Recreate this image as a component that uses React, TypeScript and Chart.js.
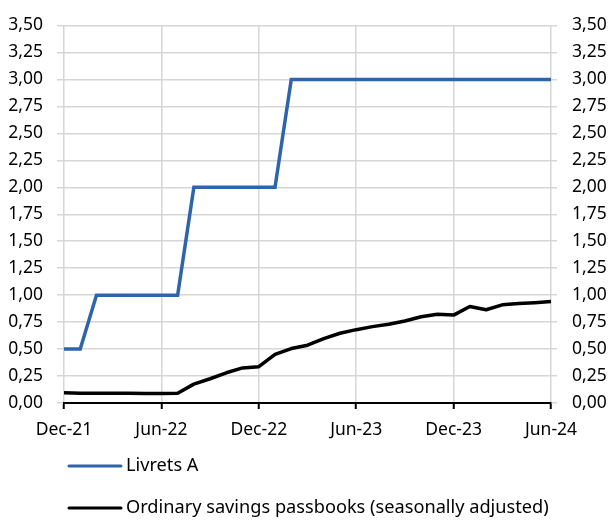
import React, { useEffect, useRef } from "react";
import { Chart, registerables } from "chart.js";

Chart.register(...registerables);

const months = [
  "Dec-21", "Jan-22", "Feb-22", "Mar-22", "Apr-22", "May-22", "Jun-22",
  "Jul-22", "Aug-22", "Sep-22", "Oct-22", "Nov-22", "Dec-22",
  "Jan-23", "Feb-23", "Mar-23", "Apr-23", "May-23", "Jun-23",
  "Jul-23", "Aug-23", "Sep-23", "Oct-23", "Nov-23", "Dec-23",
  "Jan-24", "Feb-24", "Mar-24", "Apr-24", "May-24", "Jun-24",
];

const livretA = [
  0.5, 0.5, 1, 1, 1, 1, 1,
  1, 2, 2, 2, 2, 2,
  2, 3, 3, 3, 3, 3,
  3, 3, 3, 3, 3, 3,
  3, 3, 3, 3, 3, 3,
];

const ordinaryPassbooks = [
  0.096, 0.09, 0.09, 0.09, 0.09, 0.088, 0.088,
  0.09, 0.175, 0.225, 0.28, 0.325, 0.337,
  0.45, 0.505, 0.536, 0.597, 0.647, 0.68,
  0.708, 0.73, 0.76, 0.8, 0.822, 0.815,
  0.895, 0.865, 0.91, 0.922, 0.93, 0.94,
];

const seriesNames = ["Livrets A", "Ordinary savings passbooks (seasonally adjusted)"];
const seriesColors = ["#2e64aa", "#000000"];

const FONT = "'Noto Sans', 'Open Sans', sans-serif";

const legendPlugin = {
  id: "customLegend",
  afterDraw(chart: any) {
    const ctx = chart.ctx;
    ctx.save();
    chart.data.datasets.forEach((ds: any, i: number) => {
      const y = 466 + i * 42;
      ctx.strokeStyle = ds.borderColor;
      ctx.lineWidth = 3;
      ctx.lineCap = "round";
      ctx.beginPath();
      ctx.moveTo(69, y);
      ctx.lineTo(121, y);
      ctx.stroke();
      ctx.fillStyle = "#000";
      ctx.font = `18.2px ${FONT}`;
      ctx.textBaseline = "middle";
      ctx.textAlign = "left";
      ctx.fillText(ds.label, 126, y);
    });
    ctx.restore();
  },
};

export default function App() {
  const ref = useRef<HTMLCanvasElement | null>(null);
  useEffect(() => {
    document.body.style.margin = "0";
    const fmt = (v: any) => Number(v).toFixed(2).replace(".", ",");
    const chart = new Chart(ref.current as HTMLCanvasElement, {
      type: "line",
      data: {
        labels: months,
        datasets: [
          {
            label: seriesNames[0],
            data: livretA,
            borderColor: seriesColors[0],
            backgroundColor: seriesColors[0],
            borderWidth: 3.5,
            pointRadius: 0,
            tension: 0,
            yAxisID: "y",
          },
          {
            label: seriesNames[1],
            data: ordinaryPassbooks,
            borderColor: seriesColors[1],
            backgroundColor: seriesColors[1],
            borderWidth: 3.5,
            pointRadius: 0,
            tension: 0,
            borderJoinStyle: "round",
            yAxisID: "y",
          },
        ],
      },
      options: {
        animation: false,
        responsive: false,
        maintainAspectRatio: false,
        layout: { padding: { top: 18, left: 0, right: 0, bottom: 0 } },
        plugins: { legend: { display: false }, tooltip: { enabled: false } },
        scales: {
          x: {
            type: "category",
            offset: false,
            afterFit: (s: any) => { s.height = 117; },
            grid: {
              color: "#d6d6d6",
              lineWidth: 1.5,
              tickColor: "#000",
              tickLength: 6,
              tickWidth: 2,
              offset: false,
            },
            border: { display: true, color: "#000", width: 2 },
            ticks: {
              autoSkip: false,
              maxRotation: 0,
              padding: 11,
              color: "#000",
              font: { size: 17.5, family: FONT },
              callback: (_v: any, i: number) => (i % 6 === 0 ? months[i] : null),
            },
          },
          y: {
            position: "left",
            min: 0,
            max: 3.5,
            afterFit: (s: any) => { s.width = 64; },
            grid: { color: "#d6d6d6", lineWidth: 1.5, tickLength: 7 },
            border: { display: false },
            ticks: {
              stepSize: 0.25,
              padding: 14,
              color: "#000",
              font: { size: 17.5, family: FONT },
              callback: fmt,
            },
          },
          y2: {
            position: "right",
            min: 0,
            max: 3.5,
            afterFit: (s: any) => { s.width = 61; },
            grid: { color: "#d6d6d6", lineWidth: 1.5, tickLength: 6, drawOnChartArea: false },
            border: { display: false },
            ticks: {
              stepSize: 0.25,
              padding: 15,
              color: "#000",
              font: { size: 17.5, family: FONT },
              callback: fmt,
            },
          },
        },
      },
      plugins: [legendPlugin],
    } as any);
    return () => chart.destroy();
  }, []);
  return <canvas ref={ref} width={612} height={520} style={{ display: "block" }} />;
}
